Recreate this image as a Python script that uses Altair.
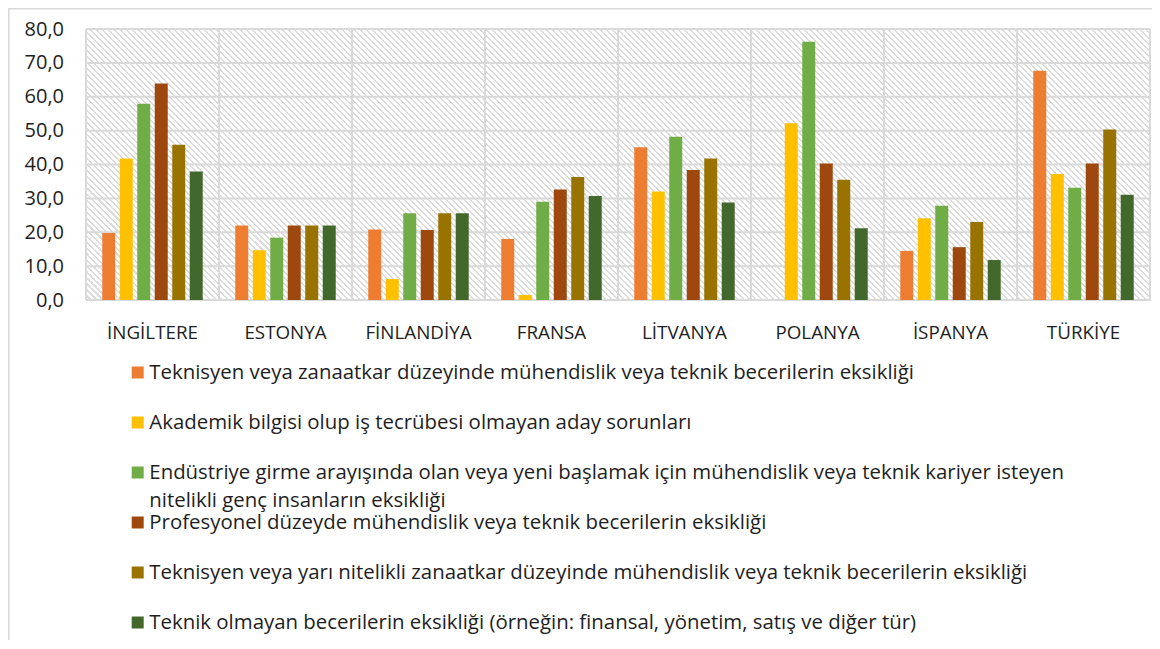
import altair as alt
import pandas as pd

countries = ["İNGİLTERE", "ESTONYA", "FİNLANDİYA", "FRANSA", "LİTVANYA", "POLANYA", "İSPANYA", "TÜRKİYE"]
series = [
    "Teknisyen veya zanaatkar düzeyinde mühendislik veya teknik becerilerin eksikliği",
    "Akademik bilgisi olup iş tecrübesi olmayan aday sorunları",
    "Endüstriye girme arayışında olan veya yeni başlamak için mühendislik veya teknik kariyer isteyen nitelikli genç insanların eksikliği",
    "Profesyonel düzeyde mühendislik veya teknik becerilerin eksikliği",
    "Teknisyen veya yarı nitelikli zanaatkar düzeyinde mühendislik veya teknik becerilerin eksikliği",
    "Teknik olmayan becerilerin eksikliği (örneğin: finansal, yönetim, satış ve diğer tür)",
]
legend_text = [
    series[0],
    series[1],
    "Endüstriye girme arayışında olan veya yeni başlamak için mühendislik veya teknik kariyer isteyen\nnitelikli genç insanların eksikliği",
    series[3],
    series[4],
    series[5],
]
colors = ["#ED7D31", "#FFC000", "#70AD47", "#9E480E", "#997300", "#43682B"]

s1 = [19.8, 22.0, 20.8, 18.0, 45.1, 0.0, 14.5, 67.7]
s2 = [41.8, 14.7, 6.2, 1.5, 32.0, 52.2, 24.1, 37.2]
s3 = [57.9, 18.4, 25.6, 29.0, 48.2, 76.2, 27.8, 33.1]
s4 = [63.9, 22.0, 20.7, 32.6, 38.4, 40.3, 15.6, 40.3]
s5 = [45.8, 22.0, 25.6, 36.3, 41.8, 35.5, 23.0, 50.3]
s6 = [37.9, 22.0, 25.6, 30.7, 28.8, 21.2, 11.8, 31.1]
values = [s1, s2, s3, s4, s5, s6]
y_ticks = [0, 10, 20, 30, 40, 50, 60, 70, 80]

rows = []
for si, name in enumerate(series):
    for ci, c in enumerate(countries):
        rows.append({"country": c, "series": name, "value": values[si][ci]})
df = pd.DataFrame(rows)
leg_df = pd.DataFrame({"series": series, "label": legend_text})
cat_df = pd.DataFrame({"country": countries})
tick_df = pd.DataFrame({"v": y_ticks})
one = alt.Data(values=[{"k": 1}])

W, H = 1064, 271
FONT = "Open Sans"
TXT = "#1e1e1e"
GRID = "#d9d9d9"

# diagonal hatch for plot background (downward diagonal stripes)
D = W + H
P, SW = 6.0, 2.4
stops = []
k = 0
while k * P < D:
    a = k * P
    o1 = min(a / D, 1.0)
    o2 = min((a + P - SW) / D, 1.0)
    o3 = min((a + P) / D, 1.0)
    stops += [
        alt.GradientStop(color="#ffffff", offset=o1),
        alt.GradientStop(color="#ffffff", offset=o2),
        alt.GradientStop(color="#dcdcdc", offset=o2),
        alt.GradientStop(color="#dcdcdc", offset=o3),
    ]
    k += 1
r = H / W
s = (W + H) / (W * (1 + r * r))
hatch = alt.LinearGradient(gradient="linear", stops=stops, x1=0, y1=1, x2=s, y2=1 - s * r)

x_scale = alt.Scale(domain=countries, paddingInner=0, paddingOuter=0)
y_scale = alt.Scale(domain=[0, 80], nice=False)
color_scale = alt.Scale(domain=series, range=colors)

x_axis = alt.Axis(title=None, labelAngle=0, domain=False, ticks=False, tickSize=0, grid=False,
                  labelFont=FONT, labelFontSize=18.8, labelColor=TXT, labelPadding=23.5)

bg = alt.Chart(one).mark_rect(fill=hatch).encode(
    x=alt.value(0), x2=alt.value(W), y=alt.value(0), y2=alt.value(H)
)

vgrid = alt.Chart(cat_df).mark_rule(color=GRID, strokeWidth=2).encode(
    x=alt.X("country:N", bandPosition=0, scale=x_scale, sort=countries, axis=x_axis)
)

hgrid = alt.Chart(tick_df).mark_rule(color=GRID, strokeWidth=2).encode(
    y=alt.Y("v:Q", scale=y_scale, axis=None)
)

bars = alt.Chart(df).mark_bar().encode(
    x=alt.X("country:N", scale=x_scale, sort=countries, axis=x_axis),
    xOffset=alt.XOffset("series:N", sort=series,
                        scale=alt.Scale(domain=series, paddingInner=0.257, paddingOuter=0.93)),
    y=alt.Y("value:Q", scale=y_scale,
            axis=alt.Axis(title=None, orient="left", values=y_ticks, domain=False, ticks=False,
                          tickSize=0, grid=False, labelFont=FONT, labelFontSize=20,
                          labelColor=TXT, labelPadding=22.5,
                          labelExpr="replace(format(datum.value, '.1f'), '.', ',')")),
    color=alt.Color("series:N", scale=color_scale, legend=None),
)

leg_y = alt.Y("series:N", sort=series,
              scale=alt.Scale(type="point", domain=series, range=[343.5, 593.5], padding=0),
              axis=None)

leg_sq = alt.Chart(leg_df).mark_square(size=144, opacity=1, filled=True).encode(
    x=alt.value(51.7),
    y=leg_y,
    color=alt.Color("series:N", scale=color_scale, legend=None),
)

leg_txt = alt.Chart(leg_df).mark_text(
    align="left", baseline="alphabetic", dy=6.5, lineBreak="\n", lineHeight=28,
    font=FONT, fontSize=20.4, color=TXT
).encode(
    x=alt.value(63.3),
    y=leg_y,
    text="label:N",
)

frame_top = alt.Chart(one).mark_rule(color=GRID, strokeWidth=1.5).encode(
    x=alt.value(-78), x2=alt.value(W + 4), y=alt.value(-20.2)
)
frame_left = alt.Chart(one).mark_rule(color=GRID, strokeWidth=1.5).encode(
    x=alt.value(-77.2), y=alt.value(-21), y2=alt.value(H + 341)
)
right_edge = alt.Chart(one).mark_rule(color=GRID, strokeWidth=2).encode(
    x=alt.value(W), y=alt.value(0), y2=alt.value(H)
)

chart = alt.layer(bg, vgrid, hgrid, right_edge, bars, leg_sq, leg_txt, frame_top, frame_left).resolve_scale(
    y="independent"
).properties(
    width=W, height=H,
    padding={"left": 78, "top": 21, "right": 2, "bottom": 340},
    autosize=alt.AutoSizeParams(type="none"),
).configure_view(stroke=None).configure(background="white")

chart.save("out.html", embed_options={"renderer": "svg", "actions": False})
